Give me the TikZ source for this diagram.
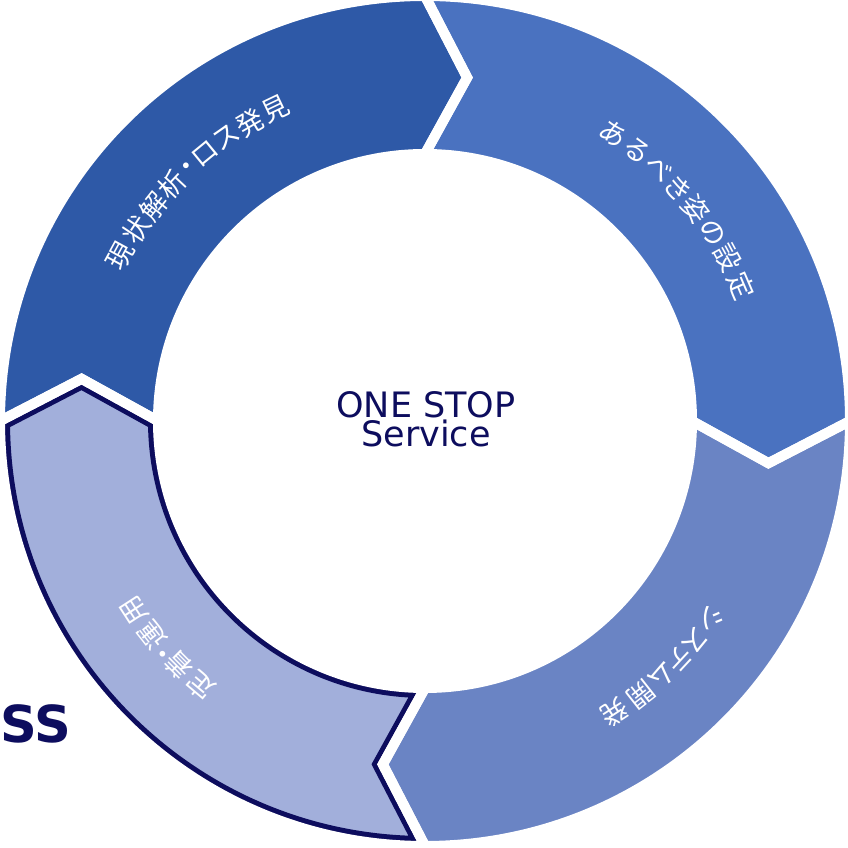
\documentclass[tikz,border=0pt]{standalone}
\usepackage{fontspec}
\newfontfamily\cjk{Noto Sans CJK JP}
\newfontfamily\lat{DejaVu Sans}
\definecolor{cA}{RGB}{46,89,167}
\definecolor{cB}{RGB}{74,114,192}
\definecolor{cC}{RGB}{106,132,196}
\definecolor{cD}{RGB}{162,175,219}
\definecolor{navy}{RGB}{13,13,94}
\tikzset{
  segp/.style={insert path={(#1:425) arc[start angle=#1, end angle=#1-90, radius=425]
     -- (#1-97:346) -- (#1-90:267) arc[start angle=#1-90, end angle=#1, radius=267]
     -- (#1-7:346) -- cycle}},
  lbl/.style={text=white, font=\cjk\fontsize{27}{27}\selectfont, inner sep=0pt, anchor=center},
  ctext/.style={text=navy, font=\lat\fontsize{35}{35}\selectfont, inner sep=0pt, anchor=base}
}
\begin{document}
\begin{tikzpicture}[x=1pt,y=1pt]
\useasboundingbox (0,0) rectangle (848,848);
\fill[white] (0,0) rectangle (848,848);
\begin{scope}[shift={(425,427)}]
  \fill[cA, segp=180];
  \fill[cB, segp=90];
  \fill[cC, segp=0];
  \begin{scope}
    \clip[segp=-90];
    \fill[cD, segp=-90];
    \draw[navy, line width=20pt, segp=-90];
  \end{scope}
  \draw[white, line width=10pt, segp=180];
  \draw[white, line width=10pt, segp=90];
  \draw[white, line width=10pt, segp=0];
  \draw[white, line width=10pt, segp=-90];
  % labels
  \foreach \a/\c [count=\i] in {151.5/現,146.4/状,141.6/解,137.0/析,133.1/・,129.4/ロ,125.0/ス,120.4/発,115.6/見}
    {\node[lbl, rotate=\a-90] (s1c\i) at (\a:346) {\c};}
  \foreach \a/\c [count=\i] in {56.8/あ,51.9/る,47.1/べ,42.6/き,38.0/姿,33.2/の,28.4/設,23.2/定}
    {\node[lbl, rotate=\a-90] (s2c\i) at (\a:344) {\c};}
  \foreach \a/\c [count=\i] in {-34.7/シ,-39.2/ス,-43.0/テ,-47.0/ム,-51.7/開,-57.0/発}
    {\node[lbl, rotate=\a-90] (s3c\i) at (\a:348) {\c};}
  \foreach \a/\c [count=\i] in {-130.2/定,-135.2/着,-138.4/・,-141.8/運,-147.0/用}
    {\node[lbl, rotate=\a-90] (s4c\i) at (\a:347) {\c};}
\end{scope}
\node[ctext] (one) at (426,430) {ONE STOP};
\node[ctext] (svc) at (426,401) {Service};
\node[text=navy, font=\lat\bfseries\fontsize{51}{51}\selectfont, inner sep=0pt, anchor=base west] (ss) at (0,105) {SS};
\end{tikzpicture}
\end{document}
